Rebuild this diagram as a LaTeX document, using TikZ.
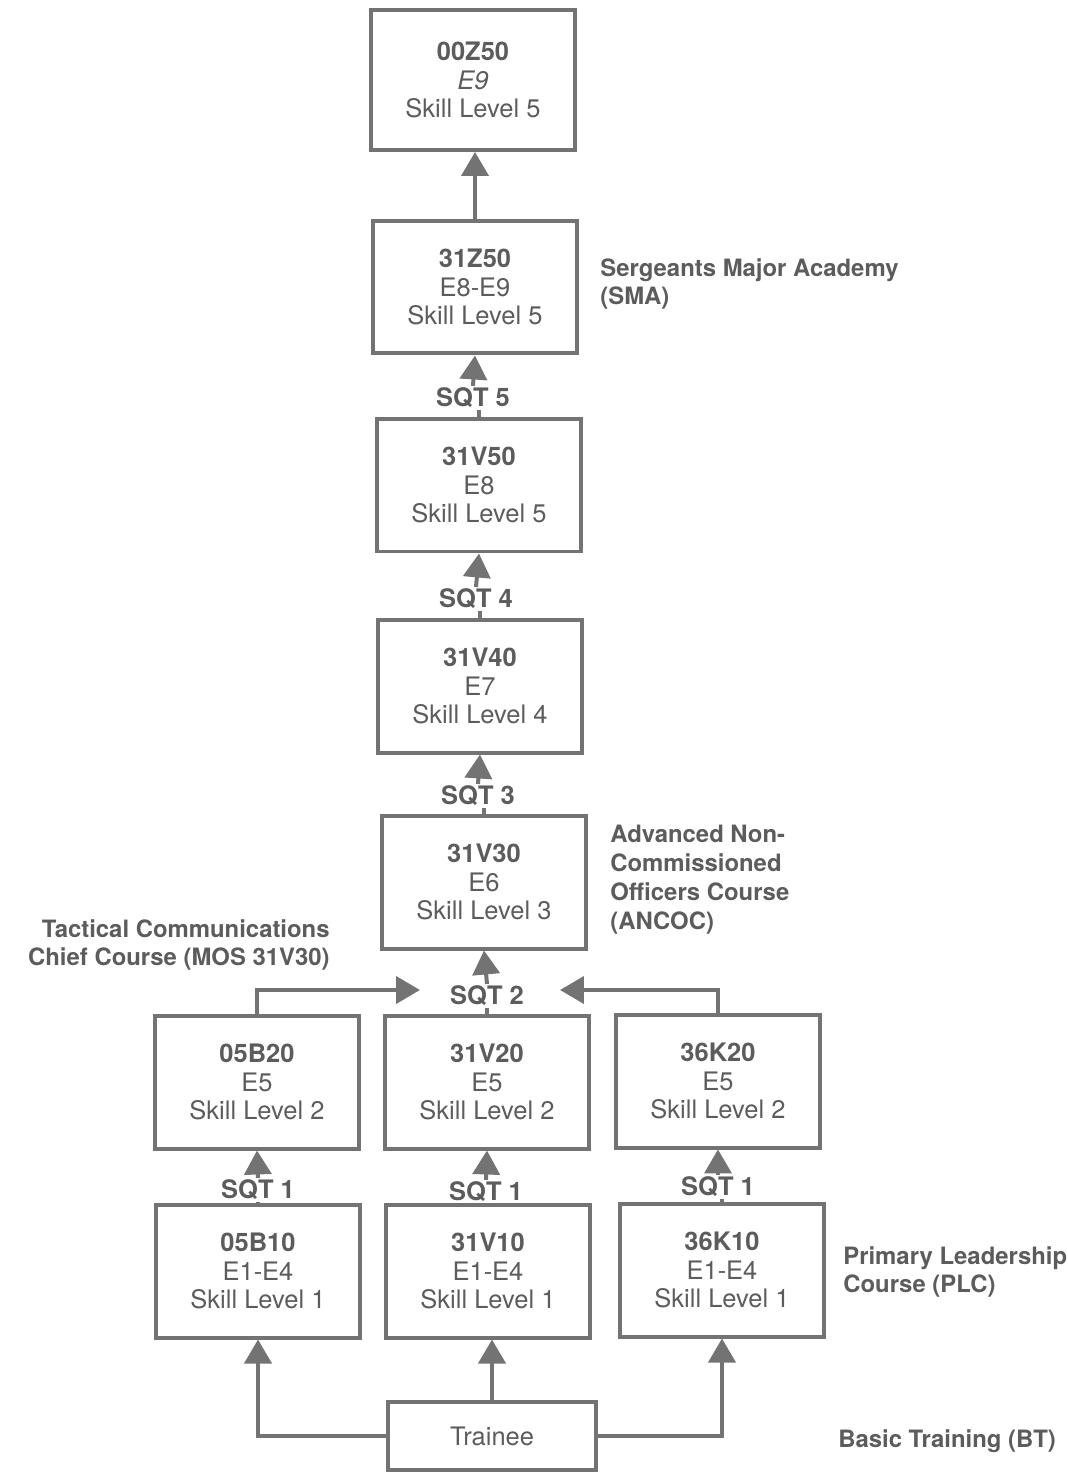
\documentclass[tikz,border=0pt]{standalone}
\usepackage{fontspec}
\setmainfont{TeX Gyre Heros}
\usepackage{tikz}
\usetikzlibrary{positioning}
\usetikzlibrary{arrows.meta}

\definecolor{inkgray}{gray}{0.36}
\definecolor{framegray}{gray}{0.45}

\begin{document}
\begin{tikzpicture}[x=0.02cm, y=-0.02cm,
    every node/.style={text=inkgray, font=\fontsize{14.5}{16}\selectfont},
    mos/.style={draw=framegray, line width=0.8mm, fill=white, align=center,
      minimum width=4.1cm, minimum height=2.66cm},
    sqt/.style={font=\bfseries\fontsize{14.5}{16}\selectfont, inner sep=1pt},
    note/.style={font=\bfseries\fontsize{13.6}{16.4}\selectfont, inner sep=0pt},
    link/.style={draw=framegray, line width=0.8mm},
    flow/.style={link, -{Triangle[width=5.4mm,length=4.8mm]}}]

    \useasboundingbox (0,0) rectangle (1068,1472);

    % Define nodes
    \node[mos, minimum height=2.8cm] (z9) at (473,80)  {\textbf{00Z50}\\\textit{E9}\\Skill Level 5};
    \node[mos]  (z50) at (475,287)  {\textbf{31Z50}\\E8-E9\\Skill Level 5};
    \node[mos]  (v50) at (479,485)  {\textbf{31V50}\\E8\\Skill Level 5};
    \node[mos]  (v40) at (480,686)  {\textbf{31V40}\\E7\\Skill Level 4};
    \node[mos]  (v30) at (484,882)  {\textbf{31V30}\\E6\\Skill Level 3};
    \node[mos]  (b20) at (257,1082) {\textbf{05B20}\\E5\\Skill Level 2};
    \node[mos]  (v20) at (487,1082) {\textbf{31V20}\\E5\\Skill Level 2};
    \node[mos]  (k20) at (718,1081) {\textbf{36K20}\\E5\\Skill Level 2};
    \node[mos]  (b10) at (258,1271) {\textbf{05B10}\\E1-E4\\Skill Level 1};
    \node[mos]  (v10) at (488,1271) {\textbf{31V10}\\E1-E4\\Skill Level 1};
    \node[mos]  (k10) at (722,1270) {\textbf{36K10}\\E1-E4\\Skill Level 1};
    \node[mos, minimum width=4.18cm, minimum height=1.36cm] (trainee) at (492,1436) {Trainee};

    % SQT labels
    \node[sqt] (sqt5) at (473,398)  {SQT 5};
    \node[sqt] (sqt4) at (476,599)  {SQT 4};
    \node[sqt] (sqt3) at (478,796)  {SQT 3};
    \node[sqt] (sqt2) at (487,996)  {SQT 2};
    \node[sqt] (sqta) at (258,1190) {SQT 1};
    \node[sqt] (sqtb) at (486,1192) {SQT 1};
    \node[sqt] (sqtc) at (718,1187) {SQT 1};

    % Courses
    \node[note, anchor=north west, align=left]  (sma)   at (600,258)  {Sergeants Major Academy\\(SMA)};
    \node[note, anchor=north west, align=left]  (ancoc) at (610,825)  {Advanced Non-\\Commissioned\\Officers Course\\(ANCOC)};
    \node[note, anchor=north east, align=right] (tccc)  at (330,919)  {Tactical Communications\\Chief Course (MOS 31V30)};
    \node[note, anchor=north west, align=left]  (plc)   at (843,1246) {Primary Leadership\\Course (PLC)};
    \node[note, anchor=north west, align=left]  (bt)    at (838,1429) {Basic Training (BT)};

    \coordinate (inl) at (420,990);
    \coordinate (inr) at (560,990);

    % Connect the nodes
    \draw[flow] (z50.north) -- (z50.north |- z9.south);
    \draw[link] (v50.north) -- (v50.north |- sqt5.south);
    \draw[flow] (sqt5.north) -- (z50.south);
    \draw[link] (v40.north) -- (v40.north |- sqt4.south);
    \draw[flow] (sqt4.north) -- (v50.south);
    \draw[link] (v30.north) -- (v30.north |- sqt3.south);
    \draw[flow] (sqt3.north) -- (v40.south);
    \draw[link] (v20.north) -- (sqt2.south);
    \draw[flow] (sqt2.north) -- (v30.south);
    \draw[flow] (b20.north) |- (inl);
    \draw[flow] (k20.north) |- (inr);
    \draw[link] (b10.north) -- (sqta.south);
    \draw[flow] (sqta.north) -- (b20.south);
    \draw[link] (v10.north) -- (v10.north |- sqtb.south);
    \draw[flow] (sqtb.north) -- (v20.south);
    \draw[link] (k10.north) -- (k10.north |- sqtc.south);
    \draw[flow] (sqtc.north) -- (k20.south);
    \draw[flow] (trainee.west) -| (b10.south);
    \draw[flow] (trainee.north) -- (trainee.north |- v10.south);
    \draw[flow] (trainee.east) -| (k10.south);
\end{tikzpicture}
\end{document}
